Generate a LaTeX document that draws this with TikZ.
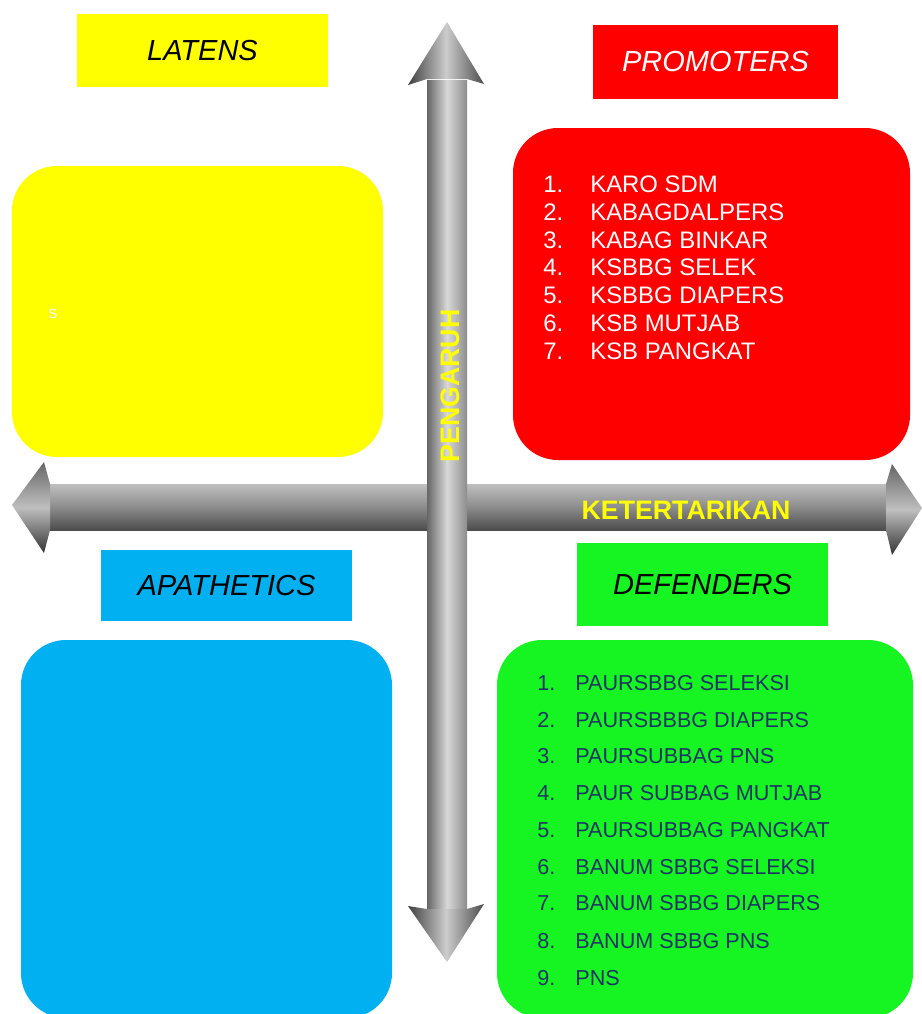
\documentclass[tikz,border=0pt]{standalone}
\usepackage{fontspec}
\setmainfont{Liberation Sans}
\definecolor{latyellow}{RGB}{255,255,0}
\definecolor{promred}{RGB}{255,0,0}
\definecolor{apablue}{RGB}{0,176,240}
\definecolor{defgreen}{RGB}{22,245,34}
\definecolor{defnavy}{RGB}{28,52,100}
\newcommand{\quadbox}[5]{\fill[#1, rounded corners=0.9cm] ( #2 , #3 ) rectangle ( #4 , #5 );}
\newcommand{\promitem}[4]{\node[promtxt] (#1n) at (543,#2) {#3.}; \node[promtxt] (#1) at (590,#2) {#4};}
\newcommand{\defitem}[4]{\node[deftxt] (#1n) at (537,#2) {#3.}; \node[deftxt] (#1) at (575,#2) {#4};}
\tikzset{
  tagbox/.style={inner sep=0pt, font=\fontsize{16.5}{20}\selectfont\itshape},
  promtxt/.style={anchor=base west, inner sep=0pt, text=white, font=\fontsize{13.6}{16}\selectfont},
  deftxt/.style={anchor=base west, inner sep=0pt, text=defnavy, font=\fontsize{12.3}{15}\selectfont},
  axislabel/.style={inner sep=0pt, text=latyellow, font=\fontsize{15.2}{18}\selectfont\bfseries},
  headshade/.style={left color=black!75, right color=black!70, middle color=black!20}
}
\begin{document}
\begin{tikzpicture}[x=0.02cm, y=-0.02cm]
        \clip (0,0) rectangle (922,1014);
        % quadrants
        \quadbox{latyellow}{12}{166}{383}{457}
        \quadbox{promred}{513}{128}{910}{460}
        \quadbox{apablue}{21}{640}{392}{1018}
        \quadbox{defgreen}{497}{640}{913}{1018}
        % headers
        \node[tagbox, fill=latyellow, minimum width=5.02cm, minimum height=1.46cm] (latens) at (202.5,50.5) {LATENS};
        \node[tagbox, fill=promred, text=white, minimum width=4.9cm, minimum height=1.48cm] (promoters) at (715.5,62) {PROMOTERS};
        \node[tagbox, fill=apablue, minimum width=5.02cm, minimum height=1.42cm] (apathetics) at (226.5,585.5) {APATHETICS};
        \node[tagbox, fill=defgreen, minimum width=5.02cm, minimum height=1.66cm] (defenders) at (702.5,584.5) {DEFENDERS};
        % horizontal arrow
        \shade[top color=black!25, bottom color=black!70, middle color=black!45] (44,484) rectangle (892,530);
        \shade[top color=black!60, bottom color=black!80, middle color=black!25] (12,505) -- (44,462) -- (50,484) -- (50,530) -- (44,553) -- cycle;
        \shade[top color=black!60, bottom color=black!80, middle color=black!25] (922,508) -- (892,464) -- (886,484) -- (886,530) -- (892,555) -- cycle;
        % vertical arrow
        \shade[left color=black!60, right color=black!45, middle color=black!15] (427,80) rectangle (467,908);
        \shade[headshade] (447,22) -- (484,84) -- (467,79) -- (427,79) -- (408,85) -- cycle;
        \shade[headshade] (447,962) -- (484,904) -- (467,909) -- (427,909) -- (408,906) -- cycle;
        % axis labels
        \node[axislabel, rotate=90] (pengaruh) at (450,386) {PENGARUH};
        \node[axislabel] (ketertarikan) at (686,510) {KETERTARIKAN};
        % latens
        \node[inner sep=0pt, text=white, font=\fontsize{10}{12}\selectfont] (lats) at (53,314) {s};
        % promoters
        \promitem{p1}{192}{1}{KARO SDM}
        \promitem{p2}{220}{2}{KABAGDALPERS}
        \promitem{p3}{248}{3}{KABAG BINKAR}
        \promitem{p4}{275}{4}{KSBBG SELEK}
        \promitem{p5}{303}{5}{KSBBG DIAPERS}
        \promitem{p6}{331}{6}{KSB MUTJAB}
        \promitem{p7}{359}{7}{KSB PANGKAT}
        % defenders
        \defitem{d1}{690}{1}{PAURSBBG SELEKSI}
        \defitem{d2}{727}{2}{PAURSBBBG DIAPERS}
        \defitem{d3}{763}{3}{PAURSUBBAG PNS}
        \defitem{d4}{800}{4}{PAUR SUBBAG MUTJAB}
        \defitem{d5}{837}{5}{PAURSUBBAG PANGKAT}
        \defitem{d6}{874}{6}{BANUM SBBG SELEKSI}
        \defitem{d7}{910}{7}{BANUM SBBG DIAPERS}
        \defitem{d8}{948}{8}{BANUM SBBG PNS}
        \defitem{d9}{985}{9}{PNS}
    \end{tikzpicture}
\end{document}
